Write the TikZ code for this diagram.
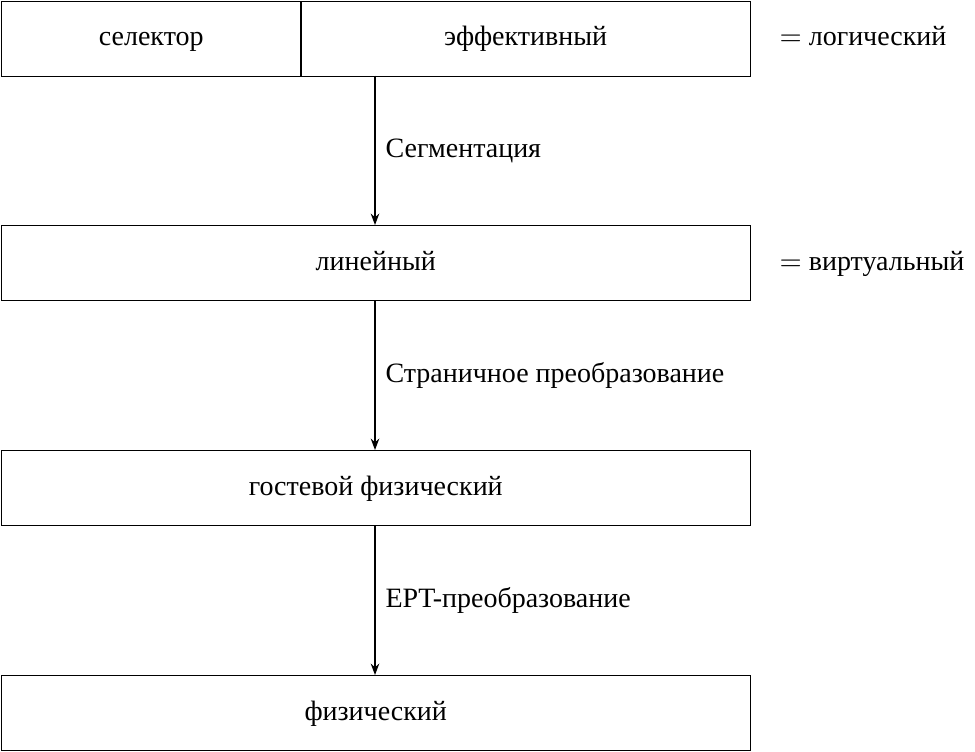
\documentclass[tikz,border=0pt]{standalone}
\usepackage{fontspec}
\setmainfont{Liberation Serif}
\usetikzlibrary{arrows.meta}
\begin{document}
\begin{tikzpicture}[x=0.35pt,y=-0.35pt,
  box/.style={draw,line width=0.45pt,minimum height=75*0.35pt,inner sep=0pt,anchor=north west,text height=0.7em,text depth=0.22em,font=\fontsize{9.8}{12}\selectfont},
  lbl/.style={anchor=west,inner sep=0pt,text height=0.7em,text depth=0.22em,font=\fontsize{9.8}{12}\selectfont},
  arr/.style={line width=0.45pt,-{Stealth[length=4pt,width=3pt]}}]
\useasboundingbox (0,0) rectangle (975,752);
\node[box,minimum width=300*0.35pt] (sel) at (0.6,0.6) {селектор};
\node[box,minimum width=450*0.35pt] (eff) at (300,0.6) {эффективный};
\node[box,minimum width=749*0.35pt] (lin) at (0.6,225) {линейный};
\node[box,minimum width=749*0.35pt] (gph) at (0.6,450) {гостевой физический};
\node[box,minimum width=749*0.35pt] (phy) at (0.6,675) {физический};
\coordinate (a1) at (375,75.6);
\coordinate (a2) at (375,300);
\coordinate (a3) at (375,525);
\draw[arr] (a1) -- (a1 |- lin.north);
\draw[arr] (a2) -- (a2 |- gph.north);
\draw[arr] (a3) -- (a3 |- phy.north);
\node[lbl] (l1) at (385,151) {Сегментация};
\node[lbl] (l2) at (385,376) {Страничное преобразование};
\node[lbl] (l3) at (385,601) {EPT-преобразование};
\node[lbl] (r1) at (779,39) {$=$ логический};
\node[lbl] (r2) at (779,264) {$=$ виртуальный};
\end{tikzpicture}
\end{document}
